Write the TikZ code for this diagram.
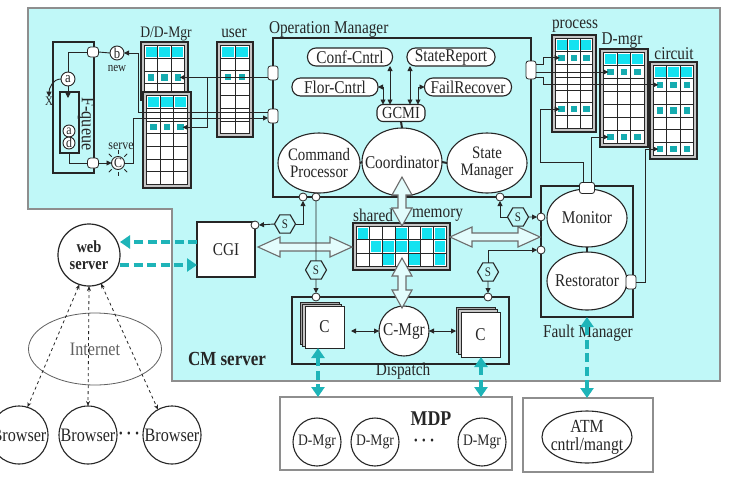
\documentclass[tikz,border=0pt]{standalone}
\usepackage{fontspec}
\setmainfont{Liberation Serif}
\newfontfamily\cfont[FakeStretch=0.85]{Liberation Serif}
\usetikzlibrary{shapes.geometric,arrows.meta}
\definecolor{bgc}{HTML}{C0F8F8}
\definecolor{bord}{HTML}{8E8E8E}
\definecolor{hcy}{HTML}{14E2F0}
\definecolor{tsq}{HTML}{16ACB0}
\definecolor{dcy}{HTML}{1EB4B8}
\definecolor{dk}{HTML}{262626}
\newcommand\fsz[1]{\fontsize{#1}{#1}\selectfont}
% grid: x1 y1 x2 y2 cols rows
\newcommand\gridtab[6]{%
  \draw[dk, line width=1.4, fill=gray!45] (#1,#2) rectangle (#3,#4);
  \draw[dk, line width=0.7, fill=white] (#1+3.5,#2+3.5) rectangle (#3-3.5,#4-3.5);
  \pgfmathsetmacro\gxa{#1+3.5}\pgfmathsetmacro\gya{#2+3.5}%
  \pgfmathsetmacro\gw{(#3-#1-7)/#5}\pgfmathsetmacro\gh{(#4-#2-7)/#6}%
  \pgfmathtruncatemacro\gc{#5-1}\pgfmathtruncatemacro\gr{#6-1}%
  \foreach \i in {1,...,\gc}{\draw[dk, line width=0.7] (\gxa+\i*\gw,\gya) -- ++(0,#4-#2-7);}%
  \foreach \j in {1,...,\gr}{\draw[dk, line width=0.7] (\gxa,\gya+\j*\gh) -- ++(#3-#1-7,0);}%
}
\newcommand\hdrow[2]{\foreach \i in {1,...,#2}{\fill[hcy] (\gxa+\i*\gw-\gw+1.3,\gya+#1*\gh-\gh+1.3) rectangle ++(\gw-2.6,\gh-2.6);}}
\newcommand\tsqr[2]{\fill[tsq] (\gxa+#2*\gw-0.5*\gw-3.2,\gya+#1*\gh-0.5*\gh-3.2) rectangle ++(6.4,6.4);}
\newcommand\fcell[2]{\fill[hcy] (\gxa+#2*\gw-\gw+1.2,\gya+#1*\gh-\gh+1.2) rectangle ++(\gw-2.4,\gh-2.4);}
\newcommand\cellc[3]{\coordinate (#1) at (\gxa+#3*\gw-0.5*\gw,\gya+#2*\gh-0.5*\gh);}
% hollow double arrows
\newcommand\hharrow[3]{\draw[harr] (#1,#3) -- (#1+22,#3-10) -- (#1+22,#3-4) -- (#2-22,#3-4) -- (#2-22,#3-10) -- (#2,#3) -- (#2-22,#3+10) -- (#2-22,#3+4) -- (#1+22,#3+4) -- (#1+22,#3+10) -- cycle;}
\newcommand\vvarrow[3]{\draw[harr] (#3,#1) -- (#3-10,#1+18) -- (#3-4,#1+18) -- (#3-4,#2-18) -- (#3-10,#2-18) -- (#3,#2) -- (#3+10,#2-18) -- (#3+4,#2-18) -- (#3+4,#1+18) -- (#3+10,#1+18) -- cycle;}

\begin{document}
\begin{tikzpicture}[x=1pt,y=-1pt,
 every node/.style={font=\cfont\fsz{18}, text=dk, inner sep=0pt, outer sep=0pt},
 ln/.style={draw=dk, line width=0.9},
 ptip/.style={-{Triangle[length=5pt,width=5pt]}},
 btip/.style={{Triangle[length=5pt,width=5pt]}-{Triangle[length=5pt,width=5pt]}},
 port/.style={draw=dk, fill=white, line width=0.8, rounded corners=2.5pt, minimum width=10pt, minimum height=14pt},
 rbox/.style={draw=dk, fill=white, line width=1.1, rounded corners=8.5pt, minimum height=18pt},
 ell/.style={ellipse, draw=dk, fill=white, line width=1.1},
 hexs/.style={regular polygon, regular polygon sides=6, draw=dk, fill=bgc, line width=1.1, minimum size=21pt, font=\cfont\fsz{13}},
 scirc/.style={circle, draw=dk, fill=white, line width=0.8, minimum size=8pt},
 harr/.style={draw=gray!85!black, line width=1.1, fill=white!55!bgc},
 cyd/.style={draw=dcy, line width=4.5pt, dash pattern=on 9pt off 4.5pt},
 cyone/.style={-{Triangle[length=10pt,width=13pt]}},
 cytwo/.style={{Triangle[length=10pt,width=13pt]}-{Triangle[length=10pt,width=13pt]}},
 smallc/.style={circle, draw=dk, fill=white, line width=0.9},
 bigc/.style={circle, draw=dk, fill=white, line width=1.1}
]
\useasboundingbox (0,0) rectangle (735,477);
\fill[white] (0,0) rectangle (735,477);
\draw[bord, line width=2.4, fill=bgc] (28,8) -- (720,8) -- (720,381) -- (172,381) -- (172,209) -- (28,209) -- cycle;
\node[font=\cfont\bfseries\fsz{20}] (cml) at (227,359) {CM server};

% ---------- Operation Manager ----------
\node[draw=dk, line width=1.6, minimum width=258pt, minimum height=159pt, anchor=north west] (om) at (273,38) {};
\node[anchor=west] (omlab) at (269,29) {Operation Manager};
\node[rbox, minimum width=85pt] (conf) at (350,57) {Conf-Cntrl};
\node[rbox, minimum width=88pt] (srep) at (451,57) {StateReport};
\node[rbox, minimum width=86pt] (flor) at (335,87) {Flor-Cntrl};
\node[rbox, minimum width=87pt] (fail) at (468,87) {FailRecover};
\node[rbox, minimum width=48pt, minimum height=17pt, rounded corners=6pt, font=\cfont\fsz{17}] (gcmi) at (401,113) {GCMI};
\node[ell, minimum width=82pt, minimum height=60pt] (cmd) at (319,163) {};
\node[ell, minimum width=80pt, minimum height=68pt] (coord) at (402,162) {};
\node[ell, minimum width=80pt, minimum height=60pt] (stm) at (487,163) {};
\node[align=center, font=\cfont\fontsize{17.5}{16.5}\selectfont] (cmdt) at (cmd) {Command\\Processor};
\node (coordt) at (coord) {Coordinator};
\node[align=center, font=\cfont\fontsize{17.5}{16.5}\selectfont] (stmt) at (stm) {State\\Manager};
\draw[dk, line width=2] (cmd.east) -- (coord.west);
\draw[dk, line width=2] (coord.east) -- (stm.west);
\draw[dk, line width=2] (gcmi.south) -- (coord.north);
\draw[ln, btip] (flor.east) -| (383,0 |- gcmi.north);
\draw[ln, btip] (390,0 |- conf.south) -- (390,0 |- gcmi.north);
\draw[ln, btip] (410,0 |- srep.south) -- (410,0 |- gcmi.north);
\draw[ln, btip] (fail.west) -| (418,0 |- gcmi.north);
\node[port] (p1) at (273,73) {};
\node[port] (p2) at (273,116) {};
\node[port, minimum height=18pt] (p3) at (531,70) {};

% ---------- grids ----------
\node[font=\cfont\fsz{16}] (ddl) at (166,34) {D/D-Mgr};
\gridtab{141}{42}{188}{100}{3}{4}
\hdrow{1}{3}\tsqr{3}{1}\tsqr{3}{2}\tsqr{3}{3}\cellc{dd1}{3}{3}
\gridtab{143}{92}{191}{188}{3}{7}
\hdrow{1}{3}\tsqr{3}{1}\tsqr{3}{2}\tsqr{3}{3}\cellc{dd2}{3}{3}
\node (userl) at (234,33) {user};
\gridtab{217}{42}{253}{137}{2}{7}
\hdrow{1}{2}\tsqr{3}{1}\tsqr{3}{2}
\node (procl) at (575,26) {process};
\gridtab{552}{35}{596}{132}{3}{7}
\hdrow{1}{3}\tsqr{2}{1}\tsqr{2}{2}\tsqr{2}{3}\tsqr{6}{1}\tsqr{6}{2}\tsqr{6}{3}
\cellc{pr2}{2}{1}\cellc{pr6}{6}{1}
\node (dmgl) at (622,41) {D-mgr};
\gridtab{600}{49}{648}{147}{3}{7}
\hdrow{1}{3}\tsqr{2}{1}\tsqr{2}{2}\tsqr{2}{3}\tsqr{7}{1}\tsqr{7}{2}\tsqr{7}{3}
\cellc{dm2}{2}{1}\cellc{dm7}{7}{1}
\node (circl) at (674,54) {circuit};
\gridtab{650}{62}{697}{159}{3}{7}
\hdrow{1}{3}\tsqr{2}{1}\tsqr{2}{2}\tsqr{2}{3}\tsqr{4}{1}\tsqr{4}{2}\tsqr{4}{3}\tsqr{7}{1}\tsqr{7}{2}\tsqr{7}{3}
\cellc{ci2}{2}{1}\cellc{ci7}{7}{1}
% shared memory
\node[anchor=east] (shl) at (393,215) {shared};
\node[anchor=west] (meml) at (412,215) {memory};
\gridtab{353}{223}{450}{270}{7}{3}
\fcell{1}{1}\fcell{1}{4}\fcell{1}{6}\fcell{1}{7}
\fcell{2}{2}\fcell{2}{3}\fcell{2}{4}\fcell{2}{5}\fcell{2}{7}
\fcell{3}{3}\fcell{3}{5}\fcell{3}{7}

% ---------- F-queue ----------
\node[draw=dk, line width=1.1, minimum width=41pt, minimum height=131pt, anchor=north west] (fq) at (53,42) {};
\node[draw=dk, line width=1.4, minimum width=19pt, minimum height=61pt, anchor=north west] (fqi) at (60,92) {};
\node[rotate=-90, font=\cfont\fsz{19}] (fql) at (86,124) {F-queue};
\node[smallc, minimum size=14pt, font=\cfont\fsz{15}] (qa) at (68,79) {a};
\node[smallc, minimum size=12pt, font=\cfont\fsz{14}] (qa2) at (69,131) {a};
\node[smallc, minimum size=12pt, font=\cfont\fsz{14}] (qd) at (69,143) {d};
\node[port, minimum width=11pt, minimum height=10pt, rounded corners=3pt] (fp1) at (93,52) {};
\node[port, minimum width=11pt, minimum height=10pt, rounded corners=3pt] (fp2) at (93,163) {};
\node[smallc, minimum size=14pt, font=\cfont\fsz{15}] (bn) at (117,53) {b};
\node[font=\cfont\fsz{13}] (newl) at (117,68) {new};
\node[smallc, minimum size=13pt, font=\cfont\fsz{14}] (sun) at (118,163) {C};
\foreach \a in {0,45,...,315} \draw[dk, line width=0.8] (sun.center) ++(\a:9pt) -- ++(\a:4pt);
\node[font=\cfont\fsz{14}] (servel) at (121,146) {serve};
\node[font=\cfont\fsz{13}] (xl) at (49,101) {X};
\draw[ln] (qa.north) |- (fp1.west);
\draw[ln] (fp1.east) -- (bn.west);
\draw[ln, ptip] (qa.south) -- (qa.south |- 0,98);
\draw[ln, ptip] (qa.west) to[out=180, in=90] (xl.north);
\draw[ln] (fqi.south) |- (fp2.west);
\draw[ln, ptip] (fp2.east) -- (sun.west);
\draw[ln, ptip] (p2.west |- 0,112) -- (138,112) -- (138,0 |- bn) -- (bn.east);
\draw[ln, ptip] (sun.east) -- (133,0 |- sun) -- (133,118) -- (p2.west |- 0,118);
\draw[ln, ptip, shorten >=2pt] (p1.west |- dd1) -- (dd1);
\draw[ln, ptip, shorten >=2pt] (207,0 |- dd1) -- (207,0 |- dd2) -- (dd2);

% ---------- Fault Manager ----------
\node[draw=dk, line width=1.6, minimum width=92pt, minimum height=131pt, anchor=north west] (fm) at (541,186) {};
\node[ell, minimum width=80pt, minimum height=58pt] (mon) at (587,218) {};
\node[ell, minimum width=80pt, minimum height=58pt] (rest) at (587,281) {};
\node (mont) at (mon) {Monitor};
\node (restt) at (rest) {Restorator};
\draw[dk, line width=2] (mon.south) -- (rest.north);
\node[port, minimum width=15pt, minimum height=11pt] (mp) at (587,188) {};
\node[port] (rp) at (631,282) {};
\node[scirc] (fc1) at (541,217) {};
\node[scirc] (fc2) at (541,250) {};
\node (fml) at (588,333) {Fault Manager};

% ---------- Dispatch ----------
\node[draw=dk, line width=1.6, minimum width=217pt, minimum height=67pt, anchor=north west] (dsp) at (292,297) {};
\node (dspl) at (403,371) {Dispatch};
\draw[dk, line width=0.6, fill=gray!70] (300,302) rectangle (339,344);
\draw[dk, line width=0.6, fill=gray!45] (302.5,304) rectangle (341.5,346);
\node[draw=dk, fill=white, line width=0.8, minimum width=39pt, minimum height=42pt] (cl) at (324.5,327) {C};
\draw[dk, line width=0.6, fill=gray!70] (456,307) rectangle (495,352);
\draw[dk, line width=0.6, fill=gray!45] (458.5,309.5) rectangle (497.5,354.5);
\node[draw=dk, fill=white, line width=0.8, minimum width=39pt, minimum height=45pt] (cr) at (480.5,334.5) {C};
\node[bigc, minimum size=50pt] (cmgr) at (404,331) {};
\node (cmgrt) at (cmgr) {C-Mgr};
\draw[ln, btip, shorten <=7pt] (cmgr.west -| cl.east) -- (cmgr.west);
\draw[ln, btip, shorten >=5pt] (cmgr.east) -- (cmgr.east -| cr.west);
\node[scirc] (dc1) at (316,297) {};
\node[scirc] (dc2) at (488,297) {};

% ---------- CGI ----------
\node[draw=dk, fill=white, line width=1.2, minimum width=58pt, minimum height=55pt] (cgi) at (226,249.5) {CGI};
\node[scirc] (cgc) at (255,225) {};

% ---------- hollow arrows ----------
\vvarrow{177}{226}{402}
\vvarrow{258}{308}{402}
\hharrow{258}{352}{247}
\hharrow{450}{540}{237}

\node[scirc] (c1) at (303,197) {};
\node[scirc] (c2) at (316,197) {};
\node[scirc] (c3) at (500,197) {};

% ---------- S connectors ----------
\node[hexs] (s1) at (285,224) {S};
\node[hexs] (s2) at (316,270) {S};
\node[hexs] (s3) at (518,217) {S};
\node[hexs] (s4) at (488,272) {S};
\draw[ln, ptip] (s1.east) -| (c1.south);
\draw[ln, ptip] (s1.west) -- (cgc.east);
\draw[ln] (c2.south) -- (s2.north);
\draw[ln, ptip] (s2.south) -- (dc1.north);
\draw[ln, ptip] (s3.west) -| (c3.south);
\draw[ln, ptip] (s3.east) -- (fc1.west);
\draw[ln, ptip] (s4.north) |- (fc2.west);
\draw[ln, ptip] (s4.south) -- (dc2.north);

% ---------- right grid connectors ----------
\draw[ln, ptip, shorten >=2pt] (p3.east |- 0,64) -- (543,64) -- (543,0 |- pr2) -- (pr2);
\draw[ln, ptip, shorten >=2pt] (p3.east |- dm2) -- (dm2);
\draw[ln, ptip, shorten >=2pt] (p3.east |- 0,77) -- (543,77) -- (543,0 |- ci2) -- (ci2);
\draw[ln, ptip, shorten >=2pt] (583,0 |- mp.north) -- (583,162) -- (540,162) -- (540,0 |- pr6) -- (pr6);
\draw[ln, ptip, shorten >=2pt] (591,0 |- mp.north) -- (591,0 |- dm7) -- (dm7);
\draw[ln, ptip, shorten >=2pt] (rp.east) -- (645,0 |- rp) -- (645,0 |- ci7) -- (ci7);

% ---------- outside: web ----------
\node[bigc, line width=1.2, minimum size=62pt] (web) at (89,255) {};
\node[align=center, font=\cfont\bfseries\fontsize{17}{17}\selectfont] (webt) at (web) {web\\server};
\node[ellipse, draw=gray!75!black, line width=0.8, minimum width=133pt, minimum height=72pt] (inet) at (95,349) {};
\node[text=gray!75!black, font=\cfont\fsz{19}] (inett) at (inet) {Internet};
\node[bigc, minimum size=58pt] (br1) at (19,435) {};
\node[bigc, minimum size=58pt] (br2) at (88,435) {};
\node[bigc, minimum size=58pt] (br3) at (172,435) {};
\node[font=\cfont\fsz{19}] (br1t) at (br1) {Browser};
\node[font=\cfont\fsz{19}] (br2t) at (br2) {Browser};
\node[font=\cfont\fsz{19}] (br3t) at (br3) {Browser};
\node[font=\cfont\bfseries\fsz{18}] (bdots) at (129,436) {·\,·\,·};
\draw[dk, dashed, line width=0.8, {Stealth[length=5pt,width=4pt]}-{Stealth[length=5pt,width=4pt]}] (web.252) -- (br1.73);
\draw[dk, dashed, line width=0.8, {Stealth[length=5pt,width=4pt]}-{Stealth[length=5pt,width=4pt]}] (web.270) -- (br2.90);
\draw[dk, dashed, line width=0.8, {Stealth[length=5pt,width=4pt]}-{Stealth[length=5pt,width=4pt]}] (web.293) -- (br3.119);
\draw[cyd, cyone] (cgi.west |- 0,242) -- (web.east |- 0,242);
\draw[cyd, cyone] (web.east |- 0,265) -- (cgi.west |- 0,265);

% ---------- MDP and ATM ----------
\node[draw=bord, line width=2, minimum width=232pt, minimum height=73pt, anchor=north west] (mdp) at (280,397) {};
\node[font=\cfont\bfseries\fsz{21}] (mdpl) at (431,419) {MDP};
\node[bigc, minimum size=48pt] (dm1) at (317,442) {};
\node[bigc, minimum size=48pt] (dmb) at (375,442) {};
\node[bigc, minimum size=48pt] (dm3) at (482,442) {};
\node[font=\cfont\fsz{16}] (dm1t) at (dm1) {D-Mgr};
\node[font=\cfont\fsz{16}] (dmbt) at (dmb) {D-Mgr};
\node[font=\cfont\fsz{16}] (dm3t) at (dm3) {D-Mgr};
\node[font=\cfont\bfseries\fsz{18}] (mdots) at (424,443) {·\,·\,·};
\node[draw=bord, line width=2, minimum width=130pt, minimum height=74pt, anchor=north west] (atm) at (523,398) {};
\node[ell, minimum width=90pt, minimum height=52pt] (atme) at (587,437) {};
\node[align=center, font=\cfont\fontsize{18.5}{18}\selectfont] (atmt) at (atme) {ATM\\cntrl/mangt};

\draw[cyd, cytwo] (318,0 |- cl.south) -- (318,0 |- mdp.north);
\draw[cyd, cytwo] (481,0 |- cr.south) -- (481,0 |- mdp.north);
\draw[cyd, cytwo] (fm.south) -- (fm.south |- atm.north);
\end{tikzpicture}
\end{document}
